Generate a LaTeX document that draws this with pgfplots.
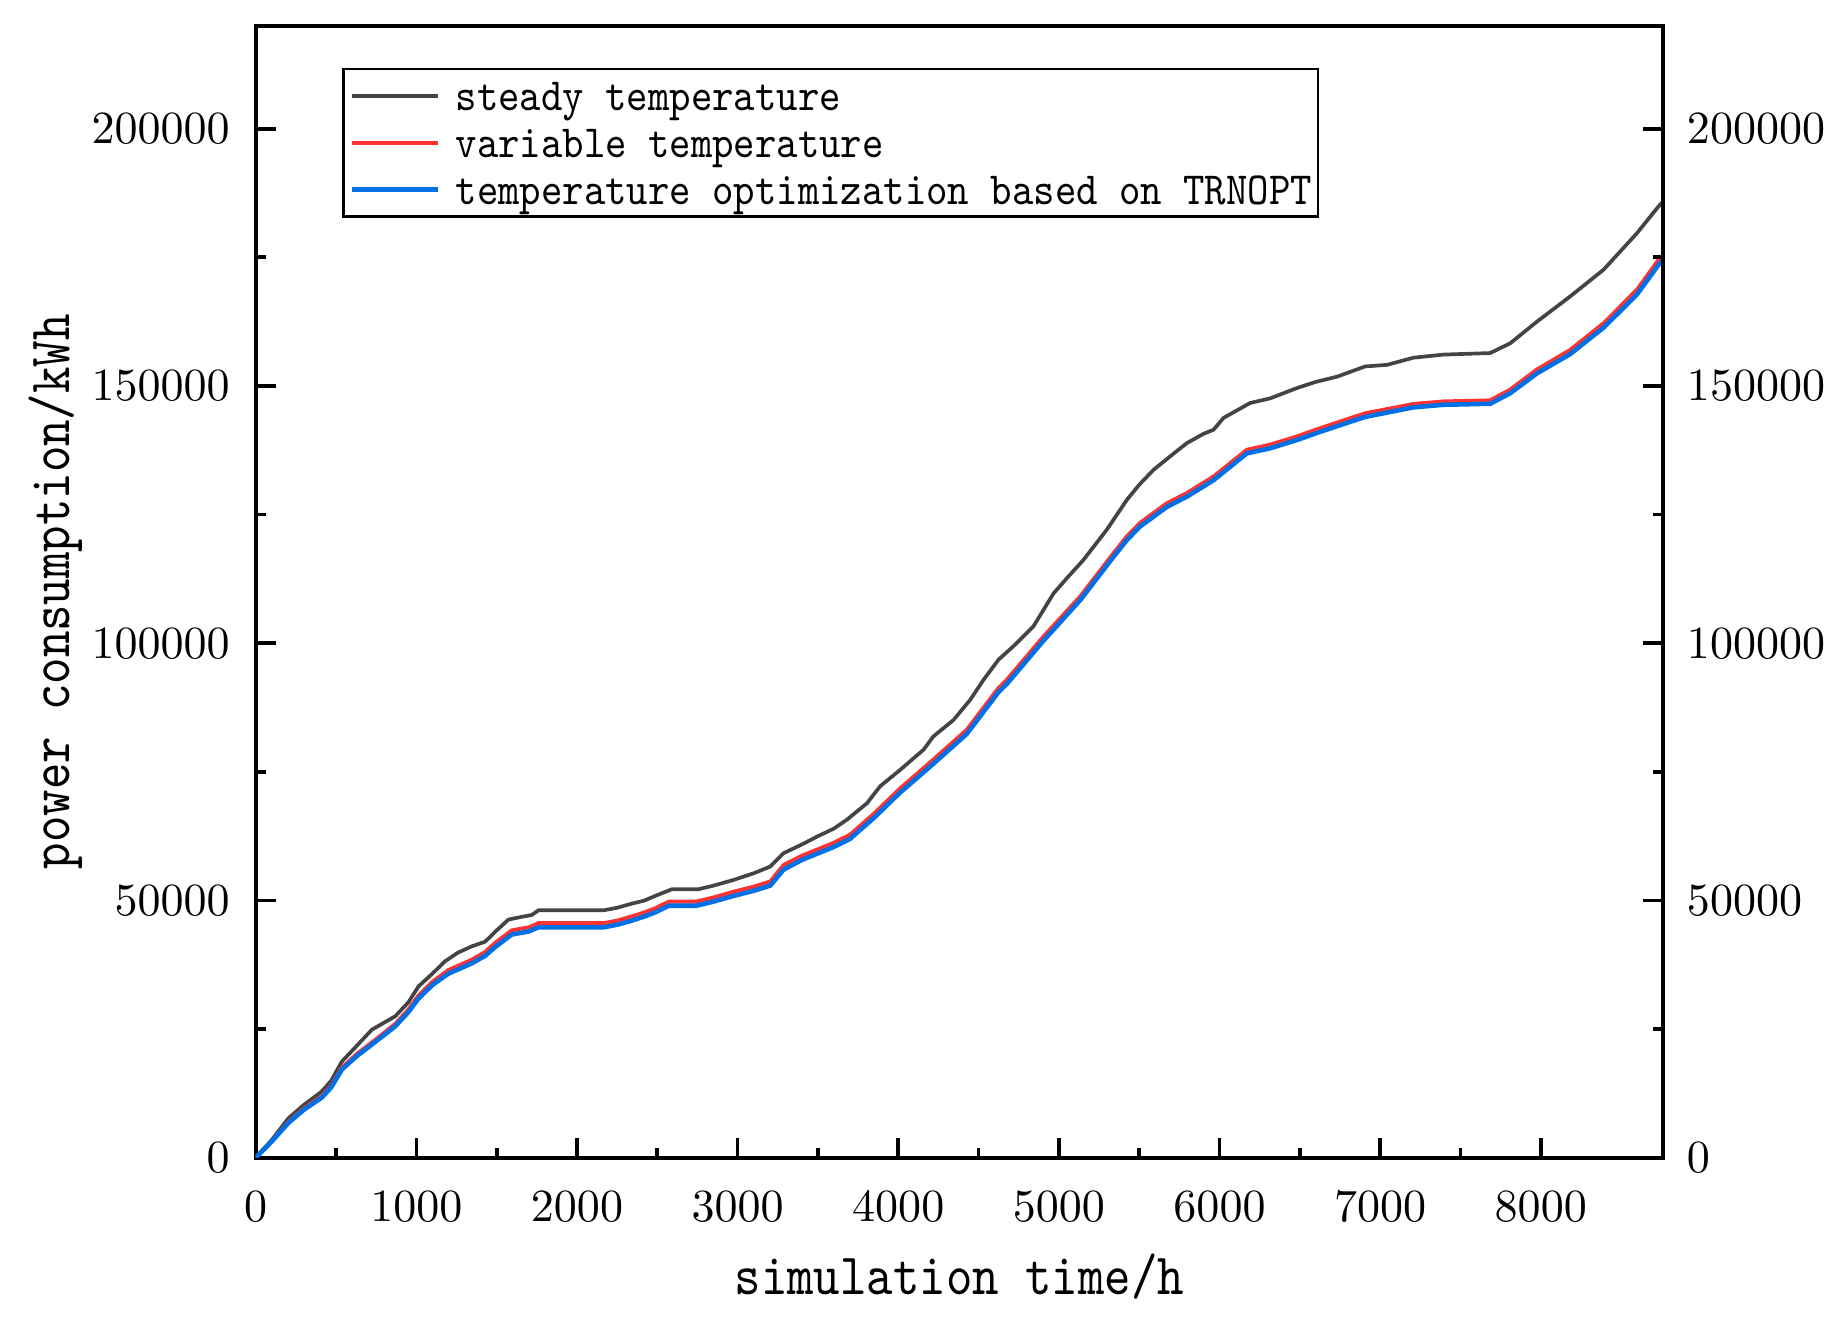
\documentclass[border=0pt]{standalone}
\usepackage{fontspec}
\usepackage{pgfplots}
\pgfplotsset{compat=1.18}
\usetikzlibrary{calc}
\newfontfamily\monofont{lmmono10-regular}[Extension=.otf, FakeStretch=0.86]
\newfontfamily\legfont{lmmono10-regular}[Extension=.otf, FakeStretch=0.885]
\definecolor{steadyc}{RGB}{68,68,68}
\definecolor{varc}{RGB}{255,51,51}
\definecolor{optc}{RGB}{0,112,230}

\pgfplotsset{
  commonax/.style={
    scale only axis, width=305.4pt, height=245.7pt,
    xmin=0, xmax=8760, ymin=0, ymax=220000,
    xtick={0,1000,...,8000}, minor x tick num=1,
    ytick={0,50000,...,200000}, minor y tick num=1,
    scaled ticks=false,
    /pgf/number format/.cd, fixed, precision=0, 1000 sep={}, /pgfplots/.cd,
    tick align=inside,
    major tick length=4.3pt, minor tick length=2.2pt,
    every tick/.style={black, line width=0.8pt},
    every minor tick/.style={black, line width=0.8pt},
    axis line style={line width=0.9pt},
    ticklabel style={font=\fontsize{10.3}{12}\selectfont},
  }
}

\begin{document}
\begin{tikzpicture}
\begin{axis}[
    commonax, name=main,
    xtick pos=left, ytick pos=left,
    xticklabel style={yshift=-3.9pt},
    yticklabel style={xshift=-2.1pt},
    xlabel={simulation time/h},
    ylabel={power consumption/kWh},
    every axis x label/.style={at={(axis description cs:0.5,0)}, anchor=base, yshift=-29.7pt, font=\monofont\fontsize{12.7}{14}\selectfont},
    every axis y label/.style={at={(axis description cs:0,0.5)}, rotate=90, anchor=base, yshift=40.5pt, font=\monofont\fontsize{12.7}{14}\selectfont},
    legend image code/.code={\draw[#1] (0pt,0pt) -- (18.7pt,0pt);},
    legend cell align=left,
    legend style={at={(0.0612,0.963)}, anchor=north west, draw=black, line width=0.6pt,
      inner xsep=1.3pt, inner ysep=0.7pt, column sep=3.4pt, row sep=0pt,
      font=\legfont\fontsize{10}{12}\selectfont,
      nodes={inner sep=0pt, text height=8.2pt, text depth=2pt}},
]
\addplot[steadyc, line width=0.8pt] coordinates {
(0,0)(100,3500)(204,7700)(300,10300)(411,12900)(470,15000)(536,18700)(630,21800)
(723,24900)(868,27500)(950,30200)(1013,33300)(1100,35800)(1179,38200)(1260,39900)
(1345,41100)(1428,42000)(1500,44200)(1573,46300)(1650,46800)(1719,47200)(1760,48100)
(2165,48100)(2250,48600)(2341,49400)(2420,50000)(2487,50900)(2591,52200)(2756,52200)
(2850,52900)(2974,54000)(3100,55300)(3203,56600)(3286,59200)(3400,60900)(3493,62400)
(3600,64000)(3680,65700)(3805,68900)(3887,72200)(4012,75400)(4157,79300)(4219,81900)
(4344,85100)(4448,89000)(4531,92900)(4624,96800)(4730,99800)(4842,103300)(4967,109700)
(5060,113000)(5153,116200)(5299,122100)(5424,127900)(5500,130800)(5589,133700)
(5700,136500)(5797,138900)(5900,140700)(5963,141500)(6025,143800)(6191,146700)
(6316,147600)(6482,149600)(6600,150800)(6731,151800)(6907,153800)(7042,154100)
(7208,155500)(7395,156100)(7685,156400)(7810,158300)(7976,162500)(8183,167400)
(8391,172600)(8599,179700)(8733,184900)(8760,185800)
};
\addlegendentry{steady temperature}
\addplot[varc, line width=0.85pt] coordinates {
(0,0)(100,3300)(204,7000)(300,9600)(411,12000)(470,14000)(536,17500)(630,20200)
(743,22900)(868,26000)(950,28800)(1013,31500)(1100,34200)(1200,36500)(1345,38500)
(1428,40000)(1500,42000)(1594,44200)(1700,44800)(1760,45600)(2165,45600)(2250,46100)
(2341,46900)(2420,47700)(2487,48500)(2572,49800)(2743,49800)(2850,50600)(2974,51700)
(3100,52700)(3203,53700)(3286,56900)(3400,58700)(3597,61200)(3700,62800)(3846,66800)
(4012,71800)(4219,77400)(4427,83200)(4624,91300)(4676,92900)(4904,101300)(5133,109100)
(5340,117500)(5424,120800)(5506,123400)(5589,125300)(5672,127200)(5797,129200)
(5963,132400)(6170,137600)(6316,138600)(6482,140200)(6627,141800)(6907,144700)
(7208,146500)(7395,147000)(7685,147200)(7810,149300)(7976,153200)(8183,157000)
(8391,162200)(8599,168700)(8733,174500)(8760,175300)
};
\addlegendentry{variable temperature}
\addplot[optc, line width=1pt] coordinates {
(0,0)(100,3200)(204,6800)(300,9350)(411,11700)(470,13700)(536,17150)(630,19800)
(743,22500)(868,25550)(950,28300)(1013,30950)(1100,33600)(1200,35800)(1345,37800)
(1428,39250)(1500,41200)(1594,43400)(1700,44000)(1760,44800)(2165,44800)(2250,45300)
(2341,46100)(2420,46900)(2487,47700)(2572,49000)(2743,49000)(2850,49800)(2974,50900)
(3100,51900)(3203,52900)(3286,56000)(3400,57900)(3597,60400)(3700,62000)(3846,66000)
(4012,71000)(4219,76600)(4427,82400)(4624,90500)(4676,92100)(4904,100500)(5133,108400)
(5340,116800)(5424,120100)(5506,122700)(5589,124600)(5672,126500)(5797,128500)
(5963,131700)(6170,136900)(6316,137900)(6482,139500)(6627,141100)(6907,144000)
(7208,145850)(7395,146350)(7685,146550)(7810,148600)(7976,152450)(8183,156200)
(8391,161350)(8599,167800)(8733,173550)(8760,174300)
};
\addlegendentry{temperature optimization based on TRNOPT}
\end{axis}
% right-hand y axis with its own labels
\begin{axis}[
    commonax,
    hide x axis,
    axis y line*=right,
    yticklabel style={xshift=1.7pt},
]
\addplot[draw=none] coordinates {(0,0)};
\end{axis}
\pgfresetboundingbox
\path[use as bounding box] ($(main.south west)+(-55.5pt,-36.9pt)$) rectangle ($(main.north east)+(39.1pt,5.6pt)$);
\end{tikzpicture}
\end{document}
